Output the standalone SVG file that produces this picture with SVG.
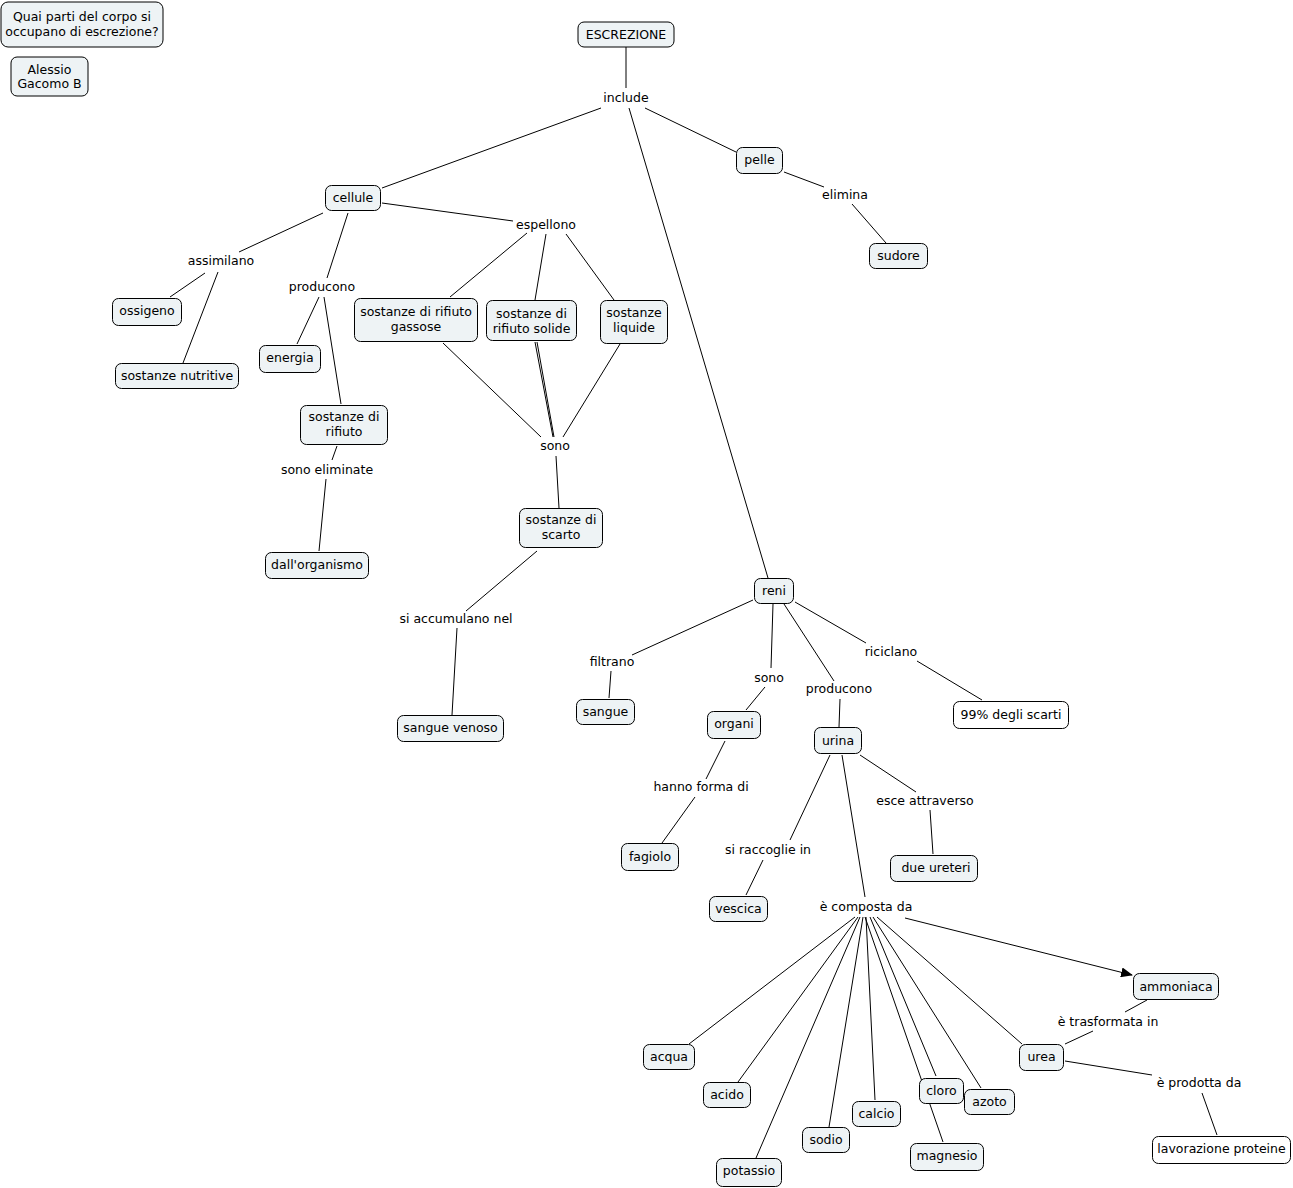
<svg xmlns="http://www.w3.org/2000/svg" width="1293" height="1188" viewBox="0 0 1293 1188">
<style>
.n rect{fill:#eef3f5;stroke:#000;stroke-width:1}
.w rect{fill:#ffffff}
text{font-family:"DejaVu Sans",Verdana,"Liberation Sans",sans-serif;font-size:12.5px;fill:#000;text-anchor:middle}
#connectors line{stroke:#000;stroke-width:1}
</style>
<defs>
<marker id="ah" markerWidth="12" markerHeight="10" refX="11" refY="5" orient="auto" markerUnits="userSpaceOnUse">
<path d="M0,0 L12,5 L0,10 z" fill="#000"/>
</marker>
</defs>
<rect width="1293" height="1188" fill="#fff"/>
<g id="connectors">
<line x1="626" y1="47" x2="626" y2="88"/>
<line x1="601" y1="108" x2="382" y2="188"/>
<line x1="629" y1="108" x2="768" y2="578"/>
<line x1="645" y1="108" x2="736" y2="152"/>
<line x1="784" y1="172" x2="824" y2="187"/>
<line x1="852" y1="204" x2="886" y2="243"/>
<line x1="382" y1="203" x2="513" y2="221"/>
<line x1="323" y1="213" x2="239" y2="252"/>
<line x1="348" y1="213" x2="327" y2="278"/>
<line x1="205" y1="273" x2="170" y2="297"/>
<line x1="218" y1="272" x2="183" y2="363"/>
<line x1="319" y1="297" x2="297" y2="344"/>
<line x1="324" y1="297" x2="341" y2="404"/>
<line x1="337" y1="446" x2="332" y2="460"/>
<line x1="326" y1="479" x2="319" y2="551"/>
<line x1="527" y1="233" x2="450" y2="297"/>
<line x1="546" y1="234" x2="535" y2="300"/>
<line x1="566" y1="234" x2="614" y2="300"/>
<line x1="443" y1="343" x2="541" y2="437"/>
<line x1="535" y1="342" x2="553" y2="437"/>
<line x1="537" y1="342" x2="554" y2="437"/>
<line x1="620" y1="344" x2="563" y2="437"/>
<line x1="556" y1="456" x2="559" y2="508"/>
<line x1="537" y1="551" x2="466" y2="611"/>
<line x1="457" y1="628" x2="452" y2="715"/>
<line x1="753" y1="600" x2="632" y2="655"/>
<line x1="611" y1="671" x2="609" y2="698"/>
<line x1="773" y1="604" x2="771" y2="668"/>
<line x1="765" y1="687" x2="746" y2="710"/>
<line x1="784" y1="604" x2="834" y2="681"/>
<line x1="840" y1="699" x2="839" y2="727"/>
<line x1="795" y1="602" x2="866" y2="643"/>
<line x1="917" y1="661" x2="982" y2="700"/>
<line x1="725" y1="741" x2="706" y2="779"/>
<line x1="695" y1="797" x2="662" y2="843"/>
<line x1="830" y1="755" x2="790" y2="840"/>
<line x1="763" y1="860" x2="746" y2="895"/>
<line x1="860" y1="755" x2="916" y2="792"/>
<line x1="930" y1="810" x2="933" y2="854"/>
<line x1="842" y1="755" x2="865" y2="897"/>
<line x1="905" y1="918" x2="1132" y2="975" marker-end="url(#ah)"/>
<line x1="855" y1="917" x2="689" y2="1044"/>
<line x1="858" y1="917" x2="738" y2="1082"/>
<line x1="860" y1="917" x2="756" y2="1158"/>
<line x1="863" y1="917" x2="829" y2="1127"/>
<line x1="866" y1="917" x2="875" y2="1100"/>
<line x1="865" y1="917" x2="943" y2="1142"/>
<line x1="870" y1="917" x2="936" y2="1076"/>
<line x1="873" y1="917" x2="981" y2="1088"/>
<line x1="877" y1="917" x2="1022" y2="1044"/>
<line x1="1147" y1="1000" x2="1125" y2="1012"/>
<line x1="1093" y1="1031" x2="1065" y2="1044"/>
<line x1="1065" y1="1061" x2="1152" y2="1075"/>
<line x1="1202" y1="1093" x2="1217" y2="1135"/>
</g>
<g id="quai" class="n"><rect x="1" y="2" width="162" height="45" rx="7"/><text x="82" y="21">Quai parti del corpo si</text><text x="82" y="36">occupano di escrezione?</text></g>
<g id="alessio" class="n"><rect x="11" y="57" width="77" height="39" rx="6"/><text x="49.5" y="74">Alessio</text><text x="49.5" y="88">Gacomo B</text></g>
<g id="escrezione" class="n"><rect x="578" y="22" width="96" height="25" rx="6"/><text x="626" y="39">ESCREZIONE</text></g>
<g id="l-include"><text x="626" y="102">include</text></g>
<g id="cellule" class="n"><rect x="325.5" y="185.5" width="55" height="25" rx="6"/><text x="353" y="202">cellule</text></g>
<g id="pelle" class="n"><rect x="736.5" y="147.5" width="46" height="26" rx="6"/><text x="759.5" y="164">pelle</text></g>
<g id="l-elimina"><text x="845" y="199">elimina</text></g>
<g id="sudore" class="n"><rect x="869.5" y="243.5" width="58" height="25" rx="6"/><text x="898.5" y="260">sudore</text></g>
<g id="l-espellono"><text x="546" y="229">espellono</text></g>
<g id="l-assimilano"><text x="221" y="265">assimilano</text></g>
<g id="l-producono1"><text x="322" y="291">producono</text></g>
<g id="ossigeno" class="n"><rect x="112.5" y="298.5" width="69" height="27" rx="6"/><text x="147" y="315">ossigeno</text></g>
<g id="nutritive" class="n"><rect x="115.5" y="363.5" width="123" height="25" rx="6"/><text x="177" y="380">sostanze nutritive</text></g>
<g id="energia" class="n"><rect x="259.5" y="345.5" width="61" height="27" rx="6"/><text x="290" y="362">energia</text></g>
<g id="rifiuto" class="n"><rect x="300.5" y="405.5" width="87" height="39" rx="6"/><text x="344" y="421">sostanze di</text><text x="344" y="436">rifiuto</text></g>
<g id="l-sonoelim"><text x="327" y="474">sono eliminate</text></g>
<g id="organismo" class="n"><rect x="265.5" y="552.5" width="103" height="26" rx="6"/><text x="317" y="569">dall'organismo</text></g>
<g id="gassose" class="n"><rect x="354.5" y="298.5" width="123" height="43" rx="6"/><text x="416" y="316">sostanze di rifiuto</text><text x="416" y="331">gassose</text></g>
<g id="solide" class="n"><rect x="486.5" y="300.5" width="90" height="40" rx="6"/><text x="531.5" y="318">sostanze di</text><text x="531.5" y="333">rifiuto solide</text></g>
<g id="liquide" class="n"><rect x="600.5" y="300.5" width="67" height="43" rx="6"/><text x="634" y="317">sostanze</text><text x="634" y="332">liquide</text></g>
<g id="l-sono1"><text x="555" y="450">sono</text></g>
<g id="scarto" class="n"><rect x="519.5" y="508.5" width="83" height="39" rx="6"/><text x="561" y="524">sostanze di</text><text x="561" y="539">scarto</text></g>
<g id="l-accumulano"><text x="456" y="623">si accumulano nel</text></g>
<g id="venoso" class="n"><rect x="397.5" y="715.5" width="106" height="26" rx="6"/><text x="450.5" y="732">sangue venoso</text></g>
<g id="reni" class="n"><rect x="754.5" y="578.5" width="39" height="25" rx="6"/><text x="774" y="595">reni</text></g>
<g id="l-filtrano"><text x="612" y="666">filtrano</text></g>
<g id="sangue" class="n"><rect x="576.5" y="699.5" width="58" height="25" rx="6"/><text x="605.5" y="716">sangue</text></g>
<g id="l-sono2"><text x="769" y="682">sono</text></g>
<g id="organi" class="n"><rect x="707.5" y="711.5" width="53" height="27" rx="6"/><text x="734" y="728">organi</text></g>
<g id="l-hanno"><text x="701" y="791">hanno forma di</text></g>
<g id="fagiolo" class="n"><rect x="621.5" y="843.5" width="57" height="27" rx="6"/><text x="650" y="861">fagiolo</text></g>
<g id="l-producono2"><text x="839" y="693">producono</text></g>
<g id="urina" class="n"><rect x="814.5" y="727.5" width="47" height="26" rx="6"/><text x="838" y="745">urina</text></g>
<g id="l-riciclano"><text x="891" y="656">riciclano</text></g>
<g id="scarti" class="n w"><rect x="953.5" y="701.5" width="115" height="27" rx="6"/><text x="1011" y="719">99% degli scarti</text></g>
<g id="l-raccoglie"><text x="768" y="854">si raccoglie in</text></g>
<g id="vescica" class="n"><rect x="709.5" y="896.5" width="58" height="25" rx="6"/><text x="738.5" y="913">vescica</text></g>
<g id="l-esce"><text x="925" y="805">esce attraverso</text></g>
<g id="ureteri" class="n"><rect x="890.5" y="855.5" width="87" height="26" rx="6"/><text x="936" y="872">due ureteri</text></g>
<g id="l-composta"><text x="866" y="911">è composta da</text></g>
<g id="ammoniaca" class="n"><rect x="1133.5" y="973.5" width="85" height="26" rx="6"/><text x="1176" y="991">ammoniaca</text></g>
<g id="l-trasformata"><text x="1108" y="1026">è trasformata in</text></g>
<g id="urea" class="n"><rect x="1019.5" y="1044.5" width="44" height="26" rx="6"/><text x="1041.5" y="1061">urea</text></g>
<g id="l-prodotta"><text x="1199" y="1087">è prodotta da</text></g>
<g id="proteine" class="n w"><rect x="1152.5" y="1136.5" width="138" height="27" rx="6"/><text x="1221.5" y="1153">lavorazione proteine</text></g>
<g id="acqua" class="n"><rect x="643.5" y="1044.5" width="51" height="25" rx="6"/><text x="669" y="1061">acqua</text></g>
<g id="acido" class="n"><rect x="703.5" y="1082.5" width="47" height="25" rx="6"/><text x="727" y="1099">acido</text></g>
<g id="potassio" class="n"><rect x="716.5" y="1158.5" width="65" height="28" rx="6"/><text x="749" y="1175">potassio</text></g>
<g id="sodio" class="n"><rect x="802.5" y="1127.5" width="47" height="25" rx="6"/><text x="826" y="1144">sodio</text></g>
<g id="calcio" class="n"><rect x="852.5" y="1101.5" width="48" height="25" rx="6"/><text x="876.5" y="1118">calcio</text></g>
<g id="magnesio" class="n"><rect x="910.5" y="1143.5" width="73" height="27" rx="6"/><text x="947" y="1160">magnesio</text></g>
<g id="cloro" class="n"><rect x="919.5" y="1078.5" width="44" height="25" rx="6"/><text x="941.5" y="1095">cloro</text></g>
<g id="azoto" class="n"><rect x="964.5" y="1089.5" width="50" height="25" rx="6"/><text x="989.5" y="1106">azoto</text></g>
</svg>
